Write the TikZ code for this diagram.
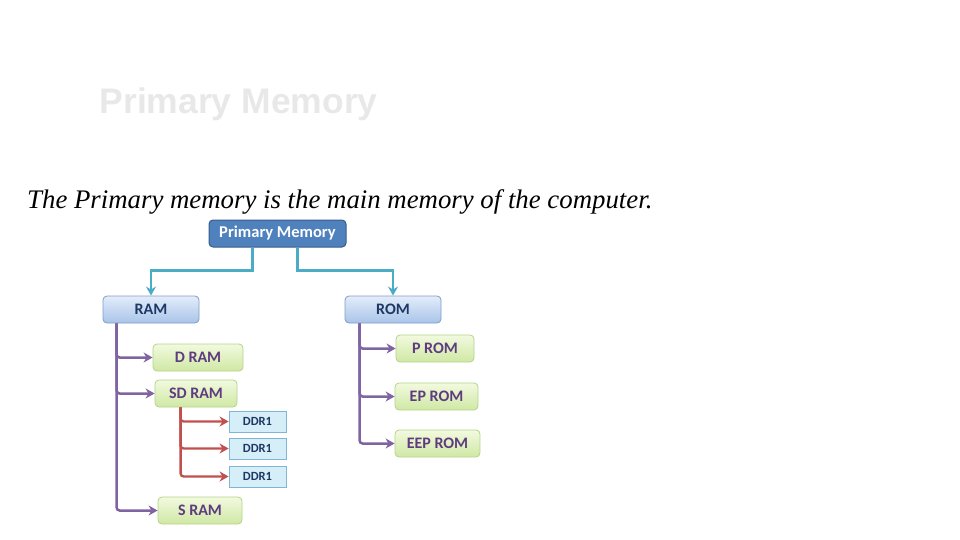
\documentclass[tikz,border=0pt]{standalone}
\usepackage{fontspec}
\setmainfont{Liberation Serif}
\newfontfamily\boxfont{Carlito}
\newfontfamily\titlefont{Liberation Sans}
\usetikzlibrary{arrows.meta,calc}
\definecolor{pmfill}{HTML}{4F81BD}
\definecolor{pmdraw}{HTML}{385D8A}
\definecolor{bluetop}{HTML}{E3EDFA}
\definecolor{bluebot}{HTML}{A9C4EA}
\definecolor{bluedraw}{HTML}{7F9CC8}
\definecolor{greentop}{HTML}{F2FADF}
\definecolor{greenbot}{HTML}{CFE8A4}
\definecolor{greendraw}{HTML}{B5D38A}
\definecolor{ddrfill}{HTML}{D6EEF8}
\definecolor{ddrdraw}{HTML}{7FB6D6}
\definecolor{teal}{HTML}{4BACC6}
\definecolor{purp}{HTML}{8064A2}
\definecolor{redl}{HTML}{C0504D}
\definecolor{navy}{HTML}{1F3864}
\definecolor{purtext}{HTML}{5F3C7F}
\tikzset{
  pmbox/.style={draw=pmdraw, line width=1pt, fill=pmfill, rounded corners=4pt, minimum width=137pt, minimum height=27pt, text=white, font=\boxfont\bfseries\fontsize{16.5}{18}\selectfont, inner sep=0pt},
  lvbox/.style={draw=bluedraw, line width=0.8pt, top color=bluetop, bottom color=bluebot, rounded corners=4pt, minimum width=96pt, minimum height=27pt, text=navy, font=\boxfont\bfseries\fontsize{16}{18}\selectfont, inner sep=0pt},
  grbox/.style={draw=greendraw, line width=0.8pt, top color=greentop, bottom color=greenbot, rounded corners=4pt, minimum height=27pt, text=purtext, font=\boxfont\bfseries\fontsize{16}{18}\selectfont, inner sep=0pt},
  ddrbox/.style={draw=ddrdraw, line width=0.8pt, fill=ddrfill, minimum width=57pt, minimum height=21pt, text=navy, font=\boxfont\bfseries\fontsize{12.5}{14}\selectfont, inner sep=0pt},
  tealline/.style={draw=teal, line width=2.5pt, -{Stealth[length=9pt,width=10pt]}},
  purline/.style={draw=purp, line width=2.5pt, rounded corners=3pt, -{Stealth[length=9pt,width=10pt]}},
  redline/.style={draw=redl, line width=2.3pt, rounded corners=3pt, -{Stealth[length=9pt,width=10pt]}}
}
\begin{document}
\begin{tikzpicture}[x=1pt,y=-1pt]
\useasboundingbox (0,0) rectangle (960,540);
\node[anchor=west, text=black!9, font=\titlefont\bfseries\fontsize{35.5}{40}\selectfont] (title) at (96,104) {Primary Memory};
\node[anchor=base west, inner sep=0pt, font=\itshape\fontsize{26.8}{30}\selectfont] (sub) at (27,208) {The Primary memory is the main memory of the computer.};

\node[pmbox] (pm) at (277.5,233.5) {Primary Memory};
\node[lvbox] (ram) at (151,309.5) {RAM};
\node[lvbox] (rom) at (393,309.5) {ROM};

\node[grbox, minimum width=90pt] (dram) at (198,357.5) {D RAM};
\node[grbox, minimum width=82pt] (sdram) at (196,393.5) {SD RAM};
\node[grbox, minimum width=84pt] (sram) at (200,510.5) {S RAM};

\node[ddrbox] (d1) at (257.5,421.5) {DDR1};
\node[ddrbox] (d2) at (257.5,448.5) {DDR1};
\node[ddrbox] (d3) at (257.5,476.5) {DDR1};

\node[grbox, minimum width=78pt] (prom) at (435,348.5) {P ROM};
\node[grbox, minimum width=83pt] (eprom) at (436.5,396.5) {EP ROM};
\node[grbox, minimum width=85pt] (eeprom) at (437.5,443.5) {EEP ROM};

% top connectors
\draw[tealline] ($(pm.south west)+(44,0)$) -- ++(0,23) -| (ram.north);
\draw[tealline] ($(pm.south west)+(89,0)$) -- ++(0,23) -| (rom.north);

% RAM branch
\coordinate (ramx) at ($(ram.south west)+(14,0)$);
\draw[purline] (ramx) |- (dram.west);
\draw[purline] (ramx) |- (sdram.west);
\draw[purline] (ramx) |- (sram.west);

% ROM branch
\coordinate (romx) at ($(rom.south west)+(15,0)$);
\draw[purline] (romx) |- (prom.west);
\draw[purline] (romx) |- (eprom.west);
\draw[purline] (romx) |- (eeprom.west);

% SD RAM branch
\coordinate (sdx) at ($(sdram.south west)+(26,0)$);
\draw[redline] (sdx) |- (d1.west);
\draw[redline] (sdx) |- (d2.west);
\draw[redline] (sdx) |- (d3.west);
\end{tikzpicture}
\end{document}
